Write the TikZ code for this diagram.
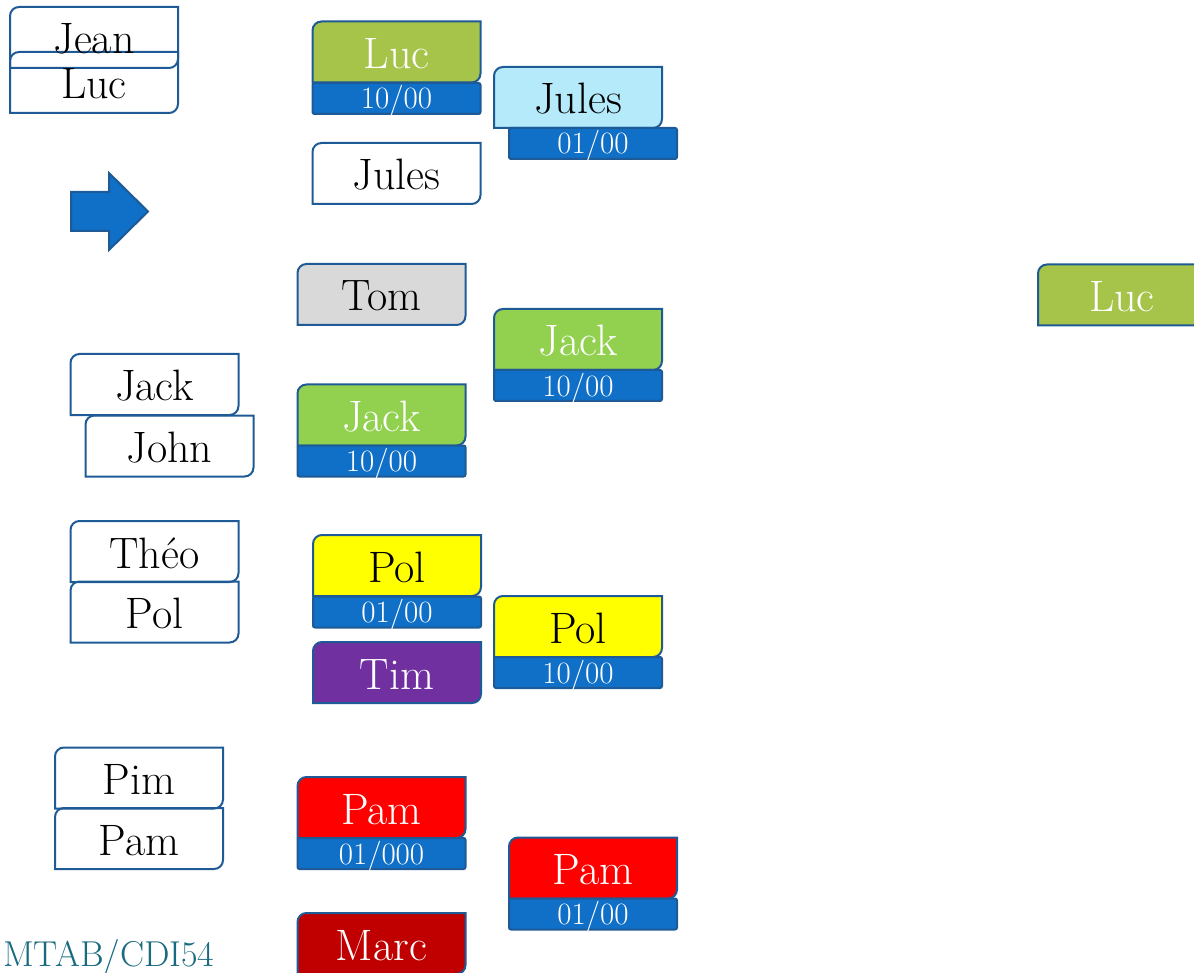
\documentclass[tikz,border=0pt]{standalone}
\usetikzlibrary{backgrounds}
\definecolor{edge}{RGB}{30,90,150}
\definecolor{datefill}{RGB}{16,111,198}
\definecolor{lucgreen}{RGB}{166,195,74}
\definecolor{jackgreen}{RGB}{146,208,80}
\definecolor{julesblue}{RGB}{180,234,250}
\definecolor{tomgray}{RGB}{217,217,217}
\definecolor{polyellow}{RGB}{255,255,0}
\definecolor{pamred}{RGB}{255,0,0}
\definecolor{timpurple}{RGB}{112,48,160}
\definecolor{marcred}{RGB}{192,0,0}
\definecolor{signteal}{RGB}{24,106,126}
\tikzset{
  namebox/.style={minimum width=168pt, minimum height=61pt, inner sep=0pt, outer sep=0pt,
    text height=33pt, text depth=0pt, font=\fontsize{44}{44}\selectfont},
  datebox/.style={minimum width=168pt, minimum height=31pt, inner sep=0pt, outer sep=0pt,
    text height=21pt, text depth=0pt, text=white, font=\fontsize{31}{31}\selectfont},
  outline/.style={draw=edge, line width=2pt}
}
% box with round top-left and bottom-right corners, behind the text
\newcommand\tagshape[2]{%
  \begin{scope}[on background layer]
    \filldraw[outline, fill=#2] (#1.south west) -- ([yshift=-9pt]#1.north west)
      .. controls ([yshift=-4pt]#1.north west) and ([xshift=4pt]#1.north west) .. ([xshift=9pt]#1.north west)
      -- (#1.north east) -- ([yshift=9pt]#1.south east)
      .. controls ([yshift=4pt]#1.south east) and ([xshift=-4pt]#1.south east) .. ([xshift=-9pt]#1.south east)
      -- cycle;
  \end{scope}}
\newcommand\datestrip[1]{%
  \begin{scope}[on background layer]
    \filldraw[outline, fill=datefill, rounded corners=2pt] (#1.south west) rectangle (#1.north east);
  \end{scope}}
\begin{document}
\begin{tikzpicture}[x=1pt, y=-1pt]
  \useasboundingbox (0,0) rectangle (1194,973);
  % left column
  \node[namebox] (jean) at (94,37.5) {Jean};
  \node[namebox] (lucleft) at (94,82.5) {Luc};
  \tagshape{jean}{none}
  \tagshape{lucleft}{none}
  \filldraw[outline, fill=datefill] (71,192) -- (109,192) -- (109,173) -- (148,211.5)
    -- (109,250) -- (109,231) -- (71,231) -- cycle;
  \node[namebox] (jack) at (154.5,384.5) {Jack};
  \node[namebox] (john) at (169.5,446) {John};
  \tagshape{jack}{none}
  \tagshape{john}{none}
  \node[namebox] (theo) at (154.5,551.5) {Théo};
  \node[namebox] (polleft) at (154.5,612) {Pol};
  \tagshape{theo}{none}
  \tagshape{polleft}{none}
  \node[namebox] (pim) at (139,778) {Pim};
  \node[namebox] (pamleft) at (139,838.5) {Pam};
  \tagshape{pim}{none}
  \tagshape{pamleft}{none}
  \node[anchor=base west, inner sep=0pt, text=signteal, font=\fontsize{36}{36}\selectfont]
    (sign) at (3,966) {MTAB/CDI54};
  % middle column
  \node[namebox, text=white] (luc) at (396.5,52) {Luc};
  \node[datebox] (lucdate) at (396.5,98.5) {10/00};
  \tagshape{luc}{lucgreen}
  \datestrip{lucdate}
  \node[namebox] (jules) at (396.5,173.5) {Jules};
  \tagshape{jules}{none}
  \node[namebox] (tom) at (381.5,294.5) {Tom};
  \tagshape{tom}{tomgray}
  \node[namebox, text=white] (jackmid) at (381.5,415) {Jack};
  \node[datebox] (jackmiddate) at (381.5,461) {10/00};
  \tagshape{jackmid}{jackgreen}
  \datestrip{jackmiddate}
  \node[namebox] (pol) at (397,565.5) {Pol};
  \node[datebox] (poldate) at (397,612) {01/00};
  \tagshape{pol}{polyellow}
  \datestrip{poldate}
  \node[namebox, text=white] (tim) at (397,672.5) {Tim};
  \tagshape{tim}{timpurple}
  \node[namebox, text=white] (pam) at (381.5,807.5) {Pam};
  \node[datebox] (pamdate) at (381.5,853.5) {01/000};
  \tagshape{pam}{pamred}
  \datestrip{pamdate}
  \node[namebox, text=white] (marc) at (381.5,943.5) {Marc};
  \tagshape{marc}{marcred}
  % right column
  \node[namebox] (julesright) at (578,97.5) {Jules};
  \node[datebox] (julesdate) at (593,143.5) {01/00};
  \tagshape{julesright}{julesblue}
  \datestrip{julesdate}
  \node[namebox, text=white] (jackright) at (578,339.5) {Jack};
  \node[datebox] (jackdate) at (578,385.5) {10/00};
  \tagshape{jackright}{jackgreen}
  \datestrip{jackdate}
  \node[namebox] (polright) at (578,626.5) {Pol};
  \node[datebox] (polrightdate) at (578,672.5) {10/00};
  \tagshape{polright}{polyellow}
  \datestrip{polrightdate}
  \node[namebox, text=white] (pamright) at (593,868) {Pam};
  \node[datebox] (pamrightdate) at (593,914) {01/00};
  \tagshape{pamright}{pamred}
  \datestrip{pamrightdate}
  \node[namebox, text=white] (lucright) at (1122,295) {Luc};
  \tagshape{lucright}{lucgreen}
\end{tikzpicture}
\end{document}
